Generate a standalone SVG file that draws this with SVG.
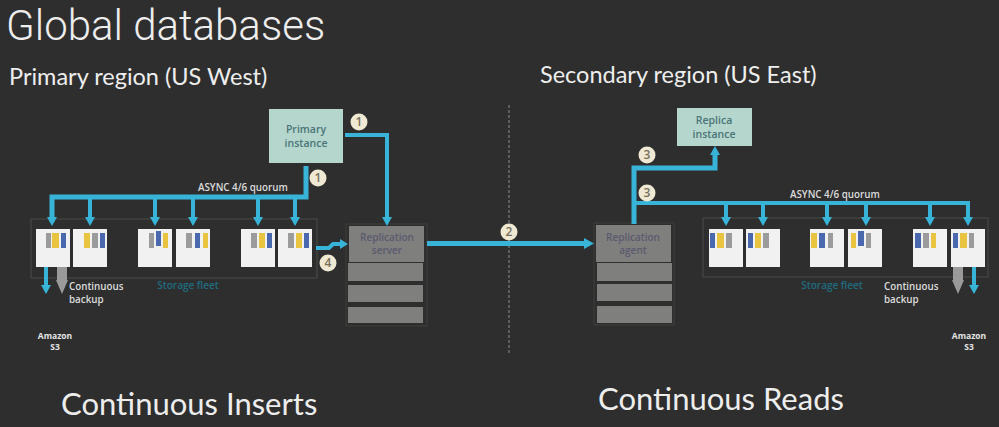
<svg xmlns="http://www.w3.org/2000/svg" width="999" height="427" viewBox="0 0 999 427">
<style>
text{font-family:"Open Sans","Liberation Sans",sans-serif}
.h{fill:#eeeeee;font-size:23.5px;font-family:Lato,"Open Sans",sans-serif}
.big{fill:#ededed;font-size:31px;font-family:Lato,"Open Sans",sans-serif}
.s{fill:#dcdcdc;font-size:9.8px;font-weight:600}
.i{fill:#4a7478;font-size:10.5px;font-weight:600;text-anchor:middle}
.r{fill:#5b5a6e;font-size:10px;font-weight:600;text-anchor:middle}
.fleet{fill:#1f6c80;font-size:10px;font-weight:600;text-anchor:middle}
.ln{fill:none;stroke:#38b4d8;stroke-width:5}
.th{fill:none;stroke:#38b4d8;stroke-width:4}
.ah{fill:#38b4d8}
.n{fill:#f1f1f1}.y{fill:#e9c440}.g{fill:#9b9b9b}.b{fill:#4a68ad}
.slab{fill:#7f7f7d}
.fr{fill:none;stroke:#4a4a48;stroke-width:1}
.frd{fill:none;stroke:#3e3e3c;stroke-width:1}
.c{fill:#efe8d2}.ct{fill:#77705a;font-size:12px;text-anchor:middle;font-weight:600}
.amz{fill:#e4e4e4;font-size:8.5px;font-weight:700;text-anchor:middle}
</style>
<defs>
<polygon id="tip" class="ah" points="-5,-7 5,-7 0,2"/>
</defs>
<rect width="999" height="427" fill="#2e2e2e"/>
<text x="6" y="40" style="fill:#eeeeee;font-size:42px;font-family:Roboto,Lato,sans-serif;font-weight:300">Global databases</text>
<text class="h" x="9" y="85">Primary region (US West)</text>
<text class="h" x="540" y="83">Secondary region (US East)</text>
<text class="big" x="61" y="415">Continuous Inserts</text>
<text class="big" x="598" y="410">Continuous Reads</text>

<line x1="509" y1="105" x2="509" y2="355" stroke="#777" stroke-width="1.3" stroke-dasharray="3 2"/>
<rect class="fr" x="31" y="219" width="286" height="59"/>
<rect class="fr" x="703" y="218" width="285" height="59"/>
<rect class="frd" x="346" y="224" width="81" height="102"/>
<rect class="frd" x="594" y="223" width="80" height="102"/>

<g id="connectors">
<path class="ln" d="M306 166V197H52V222"/>
<path class="th" d="M90 197V222M155 197V222M193 197V222M258 197V222M295 197V222"/>
<path class="th" d="M345 135H387V222"/>
<path class="th" d="M316 248H329L333 244H342"/>
<path class="ln" d="M427 243.500H585"/>
<path class="ln" d="M634 224V168H715V152"/>
<path class="th" d="M634 203H968V222"/>
<path class="th" d="M726 203V222M763 203V222M827 203V222M866 203V222M930 203V222"/>
<path class="th" d="M46 266V288M974 266V288"/>
<use href="#tip" x="52" y="224"/><use href="#tip" x="90" y="224"/><use href="#tip" x="155" y="224"/><use href="#tip" x="193" y="224"/><use href="#tip" x="258" y="224"/><use href="#tip" x="295" y="224"/>
<use href="#tip" x="726" y="224"/><use href="#tip" x="763" y="224"/><use href="#tip" x="827" y="224"/><use href="#tip" x="866" y="224"/><use href="#tip" x="930" y="224"/><use href="#tip" x="968" y="224"/>
<use href="#tip" x="387" y="224"/><use href="#tip" x="46" y="292"/><use href="#tip" x="974" y="292"/>
<use href="#tip" x="715" y="148" transform="rotate(180 715 148)"/>
<polygon class="ah" points="340,239 348,244 340,249"/>
<polygon class="ah" points="584,238 594,243.500 584,249"/>
<path d="M57 266H67V280H68L62 294L56 280H57Z" fill="#9a9a9a"/>
<path d="M953 266H963V280H964L958 294L952 280H953Z" fill="#9a9a9a"/>
</g>

<g id="primary-instance"><rect x="269" y="109" width="74" height="54" fill="#b4d6cc"/><text class="i" x="306" y="133">Primary</text><text class="i" x="306" y="147">instance</text></g>
<g id="replica-instance"><rect x="677" y="108" width="75" height="38" fill="#b4d6cc"/><text class="i" x="714" y="124">Replica</text><text class="i" x="714" y="138">instance</text></g>

<g id="storage-left">
<rect class="n" x="36" y="229" width="34" height="38"/><rect class="n" x="73" y="229" width="34" height="38"/><rect class="n" x="138" y="229" width="34" height="38"/><rect class="n" x="176" y="229" width="34" height="38"/><rect class="n" x="241" y="229" width="34" height="38"/><rect class="n" x="278" y="229" width="34" height="38"/>
<rect class="g" x="46" y="233" width="5" height="15"/><rect class="y" x="52" y="233" width="7" height="15"/><rect class="b" x="61" y="233" width="5" height="15"/>
<rect class="y" x="84" y="233" width="6" height="15"/><rect class="g" x="92" y="233" width="6" height="15"/><rect class="b" x="100" y="233" width="5" height="15"/>
<rect class="g" x="149" y="233" width="5" height="15"/><rect class="b" x="156" y="231" width="5" height="15"/><rect class="y" x="163" y="233" width="5" height="15"/>
<rect class="g" x="186" y="233" width="6" height="15"/><rect class="b" x="195" y="233" width="5" height="15"/><rect class="y" x="203" y="233" width="5" height="15"/>
<rect class="g" x="251" y="233" width="6" height="15"/><rect class="y" x="259" y="233" width="6" height="15"/><rect class="b" x="267" y="233" width="5" height="15"/>
<rect class="g" x="288" y="233" width="6" height="15"/><rect class="y" x="296" y="233" width="6" height="15"/><rect class="b" x="304" y="233" width="5" height="15"/>
</g>
<g id="storage-right">
<rect class="n" x="709" y="229" width="34" height="38"/><rect class="n" x="746" y="229" width="34" height="38"/><rect class="n" x="810" y="229" width="34" height="38"/><rect class="n" x="848" y="229" width="34" height="38"/><rect class="n" x="913" y="229" width="34" height="38"/><rect class="n" x="951" y="229" width="34" height="38"/>
<rect class="b" x="710" y="233" width="5" height="15"/><rect class="y" x="717" y="233" width="7" height="15"/><rect class="g" x="726" y="233" width="6" height="15"/>
<rect class="b" x="748" y="233" width="5" height="15"/><rect class="y" x="755" y="233" width="6" height="15"/><rect class="g" x="763" y="233" width="6" height="15"/>
<rect class="y" x="811" y="233" width="6" height="15"/><rect class="b" x="819" y="233" width="6" height="15"/><rect class="g" x="828" y="233" width="5" height="15"/>
<rect class="y" x="851" y="233" width="5" height="15"/><rect class="b" x="858" y="231" width="6" height="15"/><rect class="g" x="866" y="233" width="5" height="15"/>
<rect class="b" x="915" y="233" width="6" height="15"/><rect class="g" x="923" y="233" width="6" height="15"/><rect class="y" x="931" y="233" width="5" height="15"/>
<rect class="b" x="953" y="233" width="5" height="15"/><rect class="y" x="960" y="233" width="7" height="15"/><rect class="g" x="969" y="233" width="5" height="15"/>
</g>

<g id="replication-server">
<rect class="slab" x="349" y="226" width="75" height="36"/><rect class="slab" x="348" y="263" width="75" height="18"/><rect class="slab" x="348" y="285" width="75" height="17"/><rect class="slab" x="348" y="307" width="75" height="16"/>
<text class="r" x="387" y="241">Replication</text><text class="r" x="387" y="254">server</text>
</g>
<g id="replication-agent">
<rect class="slab" x="596" y="225" width="75" height="37"/><rect class="slab" x="597" y="263" width="75" height="18"/><rect class="slab" x="597" y="284" width="75" height="17"/><rect class="slab" x="597" y="306" width="75" height="17"/>
<text class="r" x="633" y="241">Replication</text><text class="r" x="633" y="254">agent</text>
</g>

<text class="s" x="198" y="191">ASYNC 4/6 quorum</text>
<text class="s" x="790" y="198">ASYNC 4/6 quorum</text>
<text class="fleet" x="188" y="289">Storage fleet</text>
<text class="fleet" x="832" y="289">Storage fleet</text>
<text class="s" x="69" y="290">Continuous</text><text class="s" x="69" y="303">backup</text>
<text class="s" x="884" y="290">Continuous</text><text class="s" x="884" y="303">backup</text>
<text class="amz" x="55" y="339">Amazon</text><text class="amz" x="55" y="350">S3</text>
<text class="amz" x="969" y="339">Amazon</text><text class="amz" x="969" y="350">S3</text>

<g id="badges">
<circle class="c" cx="359" cy="122" r="8.500"/><text class="ct" x="359" y="126">1</text>
<circle class="c" cx="318" cy="178" r="8.500"/><text class="ct" x="318" y="182">1</text>
<circle class="c" cx="328" cy="263" r="8.500"/><text class="ct" x="328" y="267">4</text>
<circle class="c" cx="509" cy="232" r="8.500"/><text class="ct" x="509" y="236">2</text>
<circle class="c" cx="647" cy="155" r="8.500"/><text class="ct" x="647" y="159">3</text>
<circle class="c" cx="647" cy="193" r="8.500"/><text class="ct" x="647" y="197">3</text>
</g>
</svg>
